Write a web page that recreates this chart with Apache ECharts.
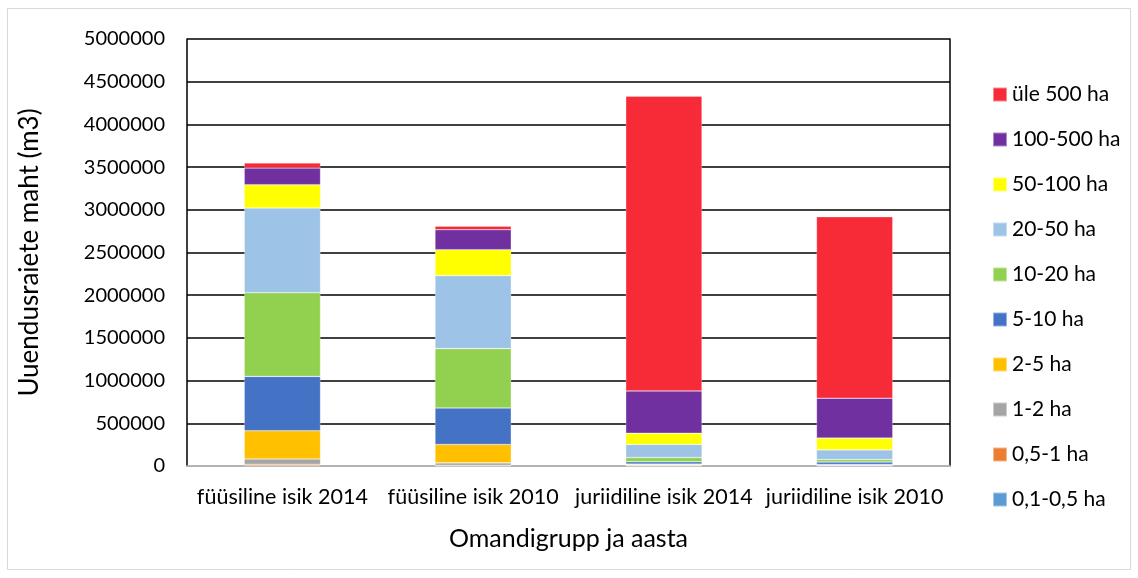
<!DOCTYPE html>
<html>
<head>
<meta charset="utf-8">
<script src="https://cdn.jsdelivr.net/npm/echarts@6/dist/echarts.min.js"></script>
<style>
  html, body { margin: 0; padding: 0; background: #fff; }
  #chart { width: 1138px; height: 578px; }
</style>
</head>
<body>
<div id="chart"></div>
<script>
// Owner group and year
const categories = ['füüsiline isik 2014', 'füüsiline isik 2010', 'juriidiline isik 2014', 'juriidiline isik 2010'];

// Regeneration felling volume (m3) by holding size class, one array per class
const s01_05 = [5000, 2000, 2000, 2000];
const s05_1 = [15000, 5000, 3000, 3000];
const s1_2 = [62000, 30000, 5000, 5000];
const s2_5 = [331000, 215000, 12000, 8000];
const s5_10 = [636000, 428000, 27000, 28000];
const s10_20 = [980000, 695000, 51000, 30000];
const s20_50 = [992000, 854000, 152000, 113000];
const s50_100 = [273000, 304000, 132000, 137000];
const s100_500 = [196000, 234000, 495000, 468000];
const sOver500 = [59000, 42000, 3452000, 2125000];

const yTicks = { min: 0, max: 5000000, interval: 500000 };

const seriesDefs = [
  { name: '0,1-0,5 ha', data: s01_05, color: '#5B9BD5' },
  { name: '0,5-1 ha', data: s05_1, color: '#ED7D31' },
  { name: '1-2 ha', data: s1_2, color: '#A5A5A5' },
  { name: '2-5 ha', data: s2_5, color: '#FFC000' },
  { name: '5-10 ha', data: s5_10, color: '#4472C4' },
  { name: '10-20 ha', data: s10_20, color: '#92D050' },
  { name: '20-50 ha', data: s20_50, color: '#9DC3E6' },
  { name: '50-100 ha', data: s50_100, color: '#FFFF00' },
  { name: '100-500 ha', data: s100_500, color: '#7030A0' },
  { name: 'üle 500 ha', data: sOver500, color: '#F72A38' }
];

const font = 'Lato, "Open Sans", sans-serif';

const chart = echarts.init(document.getElementById('chart'), null, { renderer: 'canvas' });

chart.setOption({
  animation: false,
  backgroundColor: '#fff',
  textStyle: { fontFamily: font, color: '#000' },
  graphic: [{
    type: 'rect',
    shape: { x: 7.5, y: 8.5, width: 1123, height: 561 },
    style: { fill: 'none', stroke: '#d9d9d9', lineWidth: 1 },
    silent: true,
    z: -1
  }],
  grid: { left: 187, right: 188, top: 39, bottom: 112, containLabel: false },
  legend: {
    orient: 'vertical',
    left: 992,
    top: 84,
    padding: 0,
    itemWidth: 14,
    itemHeight: 14,
    itemGap: 24,
    icon: 'rect',
    data: seriesDefs.map(s => s.name).reverse(),
    textStyle: { fontFamily: font, fontSize: 21, color: '#000', lineHeight: 21 }
  },
  xAxis: {
    type: 'category',
    data: categories,
    name: 'Omandigrupp ja aasta',
    nameLocation: 'middle',
    nameGap: 60,
    nameTextStyle: { fontFamily: font, fontSize: 25, color: '#000' },
    axisLine: { show: true, lineStyle: { color: '#d9d9d9', width: 1.5 } },
    axisTick: { show: false },
    axisLabel: { fontFamily: font, fontSize: 21.5, color: '#000', margin: 20, interval: 0 },
    splitLine: { show: false }
  },
  yAxis: [{
    type: 'value',
    min: yTicks.min,
    max: yTicks.max,
    interval: yTicks.interval,
    name: 'Uuendusraiete maht (m3)',
    nameLocation: 'middle',
    nameGap: 144,
    nameRotate: 90,
    nameTextStyle: { fontFamily: font, fontSize: 26, color: '#000' },
    axisLine: { show: true, lineStyle: { color: '#000', width: 1.5 } },
    axisTick: { show: false },
    axisLabel: { fontFamily: font, fontSize: 20, color: '#000', margin: 22, formatter: v => String(v) },
    splitLine: { show: true, lineStyle: { color: '#000', width: 1.5 } }
  }, {
    type: 'value',
    position: 'right',
    min: yTicks.min,
    max: yTicks.max,
    interval: yTicks.interval,
    axisLine: { show: true, lineStyle: { color: '#000', width: 1.5 } },
    axisTick: { show: false },
    axisLabel: { show: false },
    splitLine: { show: false }
  }],
  series: seriesDefs.map(s => ({
    name: s.name,
    type: 'bar',
    stack: 'total',
    yAxisIndex: 0,
    data: s.data,
    barWidth: '40%',
    itemStyle: { color: s.color, borderColor: 'rgba(255,255,255,0.45)', borderWidth: 0.6 },
    emphasis: { disabled: true }
  }))
});
</script>
</body>
</html>
